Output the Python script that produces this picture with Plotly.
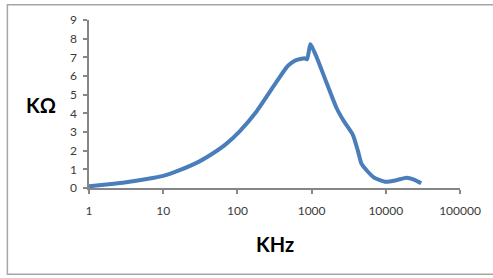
import plotly.graph_objects as go

freq_khz = [1, 2, 3, 6, 10, 17, 30, 47, 70, 108, 181, 336, 457, 535, 620, 800, 870,
            960, 1000, 1100, 1200, 1500, 2160, 2700, 3600, 4200, 4700, 5500, 7000,
            10000, 14000, 19000, 24000, 30000]
impedance_kohm = [0.09, 0.22, 0.3, 0.48, 0.65, 0.97, 1.4, 1.86, 2.35, 3.05, 4.1, 5.68, 6.45,
                  6.7, 6.85, 6.95, 6.9, 7.7, 7.6, 7.25, 6.9, 5.9, 4.3, 3.6, 2.85, 2.0,
                  1.3, 0.95, 0.55, 0.33, 0.42, 0.55, 0.45, 0.25]
x_ticks = [1, 10, 100, 1000, 10000, 100000]
x_ticktext = ["1", "10", "100", "1000", "10000", "100000"]
y_ticks = [0, 1, 2, 3, 4, 5, 6, 7, 8, 9]

fig = go.Figure()
fig.add_trace(go.Scatter(
    x=freq_khz, y=impedance_kohm, mode="lines",
    line=dict(color="#4a7ebb", width=4, shape="spline", smoothing=0.5),
    showlegend=False, hoverinfo="skip"))

axis_font = dict(family="Lato, Liberation Sans, sans-serif", size=12, color="#3a3a3a")
fig.update_layout(
    width=493, height=278,
    margin=dict(l=89, r=31, t=19, b=90),
    paper_bgcolor="white", plot_bgcolor="white",
    xaxis=dict(type="log", range=[0, 5], tickvals=x_ticks, ticktext=x_ticktext,
               showgrid=False, zeroline=False, showline=True, linecolor="#868686",
               linewidth=1.5, ticks="outside", ticklen=4, tickcolor="#868686",
               tickwidth=1.5, tickfont=axis_font, ticklabelstandoff=7),
    yaxis=dict(range=[0, 9], tickvals=y_ticks, showgrid=False, zeroline=False,
               showline=True, linecolor="#868686", linewidth=1.5, ticks="outside",
               ticklen=4, tickcolor="#868686", tickwidth=1.5, tickfont=axis_font,
               ticklabelstandoff=4),
    shapes=[dict(type="rect", xref="paper", yref="paper",
                 x0=-0.22, x1=1.1, y0=-0.5135, y1=1.091,
                 line=dict(color="#a6a6a6", width=1.5), layer="below")],
    annotations=[
        dict(text="<b>KΩ</b>", xref="paper", yref="paper", x=-0.13, y=0.495,
             showarrow=False, xanchor="center", yanchor="middle",
             font=dict(family="Lato, Liberation Sans, sans-serif", size=20, color="black")),
        dict(text="<b>KHz</b>", xref="paper", yref="paper", x=0.5, y=-0.335,
             showarrow=False, xanchor="center", yanchor="middle",
             font=dict(family="Lato, Liberation Sans, sans-serif", size=20, color="black")),
    ],
)
fig.write_html("out.html", config={"displayModeBar": False},
               post_script="document.body.style.margin='0';document.body.style.padding='0';document.body.style.overflow='hidden';")
